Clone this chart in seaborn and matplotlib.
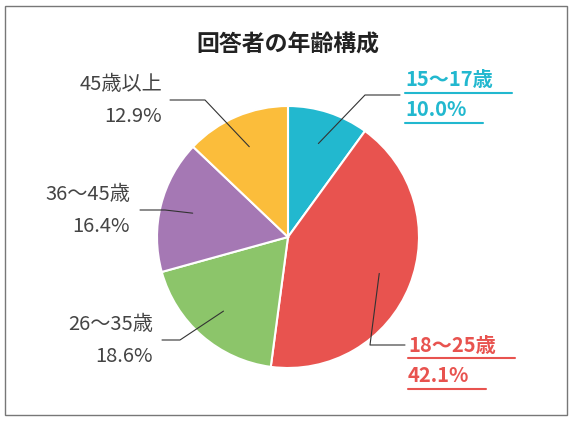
import matplotlib
matplotlib.use("Agg")
import matplotlib.pyplot as plt
import seaborn as sns
import numpy as np
from matplotlib.patches import Rectangle

sns.set_theme(style="white")
plt.rcParams['font.family'] = ['Noto Sans CJK JP', 'DejaVu Sans']

labels = ["15～17歳", "18～25歳", "26～35歳", "36～45歳", "45歳以上"]
values = [10.0, 42.1, 18.6, 16.4, 12.9]
colors = ["#22b8cf", "#e8534f", "#8cc56a", "#a578b4", "#fbbd3b"]

W, H = 573, 421
fig = plt.figure(figsize=(W/100, H/100), dpi=100)
fig.patches.append(Rectangle((5/W, 6/H), 562/W, 409/H, transform=fig.transFigure,
                             fill=False, edgecolor="#777777", lw=1))
cx, cy, r = 288, 237, 131
ax = fig.add_axes([(cx-r)/W, (H-cy-r)/H, 2*r/W, 2*r/H])
wedges, _ = ax.pie(values, colors=colors, startangle=90, counterclock=False,
                   wedgeprops=dict(edgecolor="white", linewidth=1.5))
ax.set_aspect('equal')
ax.set_xlim(-1, 1); ax.set_ylim(-1, 1)

fig.text(cx/W, 1-45/H, "回答者の年齢構成", ha="center", va="center",
         fontsize=16.5, fontweight="bold", color="#222222")

def px(x, y):
    return (x/W, 1-y/H)

layout = [
    (405, 80, 110, "left", colors[0], True, (400, 95), (365, 95)),
    (408, 345, 376, "left", colors[1], True, (405, 345), (370, 345)),
    (153, 325, 356, "right", "#444444", False, (162, 340), (180, 340)),
    (130, 195, 226, "right", "#444444", False, (140, 210), (165, 210)),
    (162, 85, 116, "right", "#444444", False, (170, 100), (205, 100)),
]
for (lab, val, w, (tx, y1, y2, ha, col, bold, p0, p1)) in zip(labels, values, wedges, layout):
    fw = "bold" if bold else "normal"
    fig.text(*px(tx, y1), lab, ha=ha, va="center", fontsize=14.5, color=col, fontweight=fw)
    fig.text(*px(tx, y2), f"{val:.1f}%", ha=ha, va="center", fontsize=14.5, color=col, fontweight=fw)
    ang = np.deg2rad((w.theta1 + w.theta2) / 2)
    ex, ey = 0.75*np.cos(ang), 0.75*np.sin(ang)
    disp = ax.transData.transform((ex, ey))
    tf = fig.transFigure.inverted().transform(disp)
    fig.lines.append(plt.Line2D([p0[0]/W, p1[0]/W, tf[0]], [1-p0[1]/H, 1-p1[1]/H, tf[1]],
                                transform=fig.transFigure, color="#333333", lw=0.8))
    if bold:
        for yy, wd in ((y1+13, 107), (y2+13, 78)):
            fig.lines.append(plt.Line2D([tx/W, (tx+wd)/W], [1-yy/H]*2,
                                        transform=fig.transFigure, color=col, lw=1.5))

fig.savefig("out.png", dpi=100)
